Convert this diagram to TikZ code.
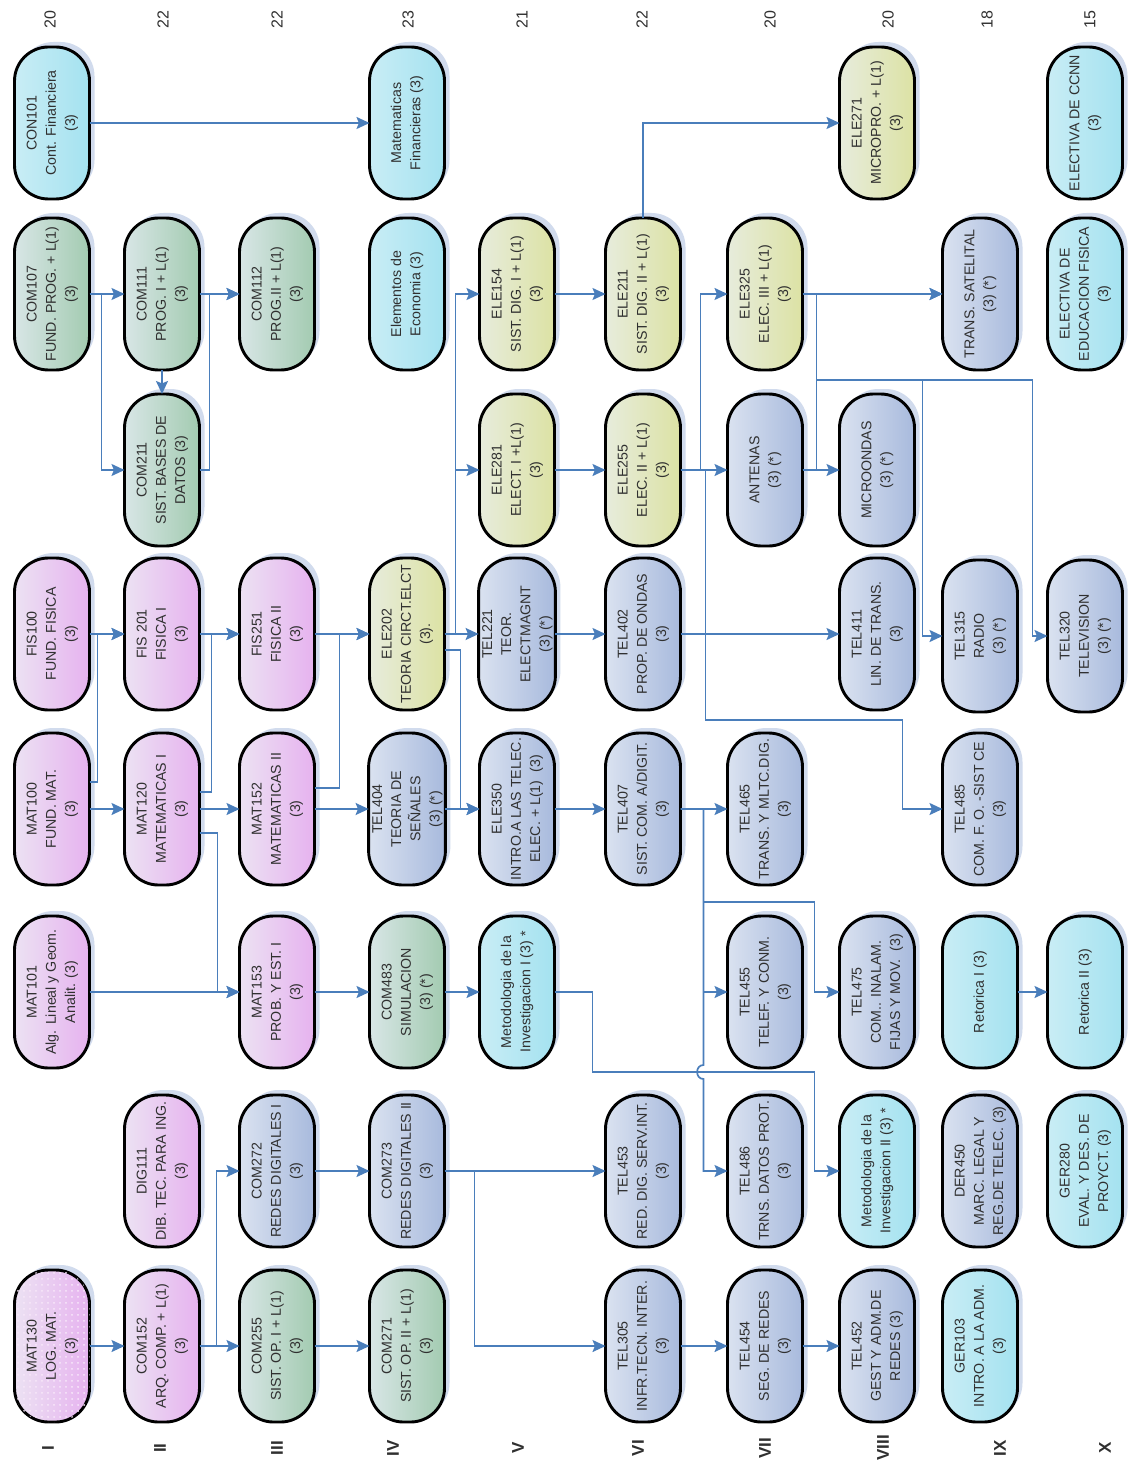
\documentclass[tikz,border=0pt]{standalone}
\usepackage{fontspec}
\setmainfont{Liberation Sans}
\usepackage{graphicx}
\usetikzlibrary{arrows.meta,shadows,patterns}
\definecolor{pinkR}{HTML}{E6B2EF}
\definecolor{pinkL}{HTML}{ECE2F3}
\definecolor{greenR}{HTML}{A3CBB1}
\definecolor{greenL}{HTML}{D8E6E6}
\definecolor{cyanR}{HTML}{A4E2F0}
\definecolor{cyanL}{HTML}{C9EDF5}
\definecolor{yelR}{HTML}{DCE2A4}
\definecolor{yelL}{HTML}{E7ECDC}
\definecolor{bluR}{HTML}{A8BADD}
\definecolor{bluL}{HTML}{DAE2F0}
\definecolor{arrc}{HTML}{4A7EBB}
\definecolor{shad}{HTML}{C9D5EA}
\definecolor{txt}{HTML}{303030}
\newcommand{\crstext}[1]{\rotatebox{90}{\begin{tabular}{@{}c@{}}#1\end{tabular}}}
\tikzset{
  course/.style={draw=black, line width=1.45pt, rounded corners=17pt,
    minimum width=37.5pt, minimum height=76pt, inner sep=0pt, outer sep=0pt,
    text=txt, font=\fontsize{7.1}{9.6}\selectfont,
    drop shadow={shadow xshift=2.5pt, shadow yshift=2.5pt, fill=shad, opacity=0.85}},
  pinkc/.style={course, left color=pinkL, right color=pinkR},
  greenc/.style={course, left color=greenL, right color=greenR},
  cyanc/.style={course, left color=cyanL, right color=cyanR},
  yelc/.style={course, left color=yelL, right color=yelR},
  bluc/.style={course, left color=bluL, right color=bluR},
  arr/.style={draw=arrc, line width=0.85pt, -{Stealth[length=6.5pt,width=6pt,inset=1.2pt]}},
  credit/.style={rotate=90, font=\fontsize{8}{9}\selectfont, text=txt},
  semlab/.style={rotate=90, font=\bfseries\fontsize{8.5}{9}\selectfont, text=txt},
}
\begin{document}
\begin{tikzpicture}[x=0.5pt,y=-0.5pt]
\useasboundingbox (0,0) rectangle (1130,1465);
\fill[white] (0,0) rectangle (1130,1465);

% ---- credits (top) ----
\node[credit] (cr1) at (50,20) {20};
\node[credit] (cr2) at (163,20) {22};
\node[credit] (cr3) at (277,20) {22};
\node[credit] (cr4) at (408,20) {23};
\node[credit] (cr5) at (522,20) {21};
\node[credit] (cr6) at (642,20) {22};
\node[credit] (cr7) at (770,20) {20};
\node[credit] (cr8) at (888,20) {20};
\node[credit] (cr9) at (987,20) {18};
\node[credit] (cr10) at (1090,20) {15};

% ---- semester labels (bottom) ----
\node[semlab] (s1) at (48,1448) {I};
\node[semlab] (s2) at (160,1448) {II};
\node[semlab] (s3) at (277,1448) {III};
\node[semlab] (s4) at (393,1448) {IV};
\node[semlab] (s5) at (518,1448) {V};
\node[semlab] (s6) at (638,1448) {VI};
\node[semlab] (s7) at (765,1448) {VII};
\node[semlab] (s8) at (883,1448) {VIII};
\node[semlab] (s9) at (1000,1448) {IX};
\node[semlab] (s10) at (1105,1448) {X};

% ---- column I ----
\node[cyanc] (con101) at (52,123) {\crstext{CON101\\Cont. Financiera\\(3)}};
\node[greenc] (com107) at (52,294) {\crstext{COM107\\FUND. PROG. + L(1)\\(3)}};
\node[pinkc] (fis100) at (52,634) {\crstext{FIS100\\FUND. FISICA\\(3)}};
\node[pinkc] (mat100) at (52,809) {\crstext{MAT100\\FUND. MAT.\\(3)}};
\node[pinkc] (mat101) at (52,992) {\crstext{MAT101\\Alg. Lineal y Geom.\\Analit. (3)}};
\node[pinkc, postaction={pattern=dots, pattern color=white!70!pinkR}] (mat130) at (52,1346) {\crstext{MAT130\\LOG. MAT.\\(3)}};

% ---- column II ----
\node[greenc] (com111) at (162,294) {\crstext{COM111\\PROG. I + L(1)\\(3)}};
\node[greenc] (com211) at (162,470) {\crstext{COM211\\SIST. BASES DE\\DATOS (3)}};
\node[pinkc] (fis201) at (162,634) {\crstext{FIS 201\\FISICA I\\(3)}};
\node[pinkc] (mat120) at (162,809) {\crstext{MAT120\\MATEMATICAS I\\(3)}};
\node[pinkc] (dig111) at (162,1171) {\crstext{DIG111\\DIB. TEC. PARA ING.\\(3)}};
\node[pinkc] (com152) at (162,1346) {\crstext{COM152\\ARQ. COMP. + L(1)\\(3)}};

% ---- column III ----
\node[greenc] (com112) at (277,294) {\crstext{COM112\\PROG.II + L(1)\\(3)}};
\node[pinkc] (fis251) at (277,634) {\crstext{FIS251\\FISICA II\\(3)}};
\node[pinkc] (mat152) at (277,809) {\crstext{MAT152\\MATEMATICAS II\\(3)}};
\node[pinkc] (mat153) at (277,992) {\crstext{MAT153\\PROB. Y EST. I\\(3)}};
\node[bluc] (com272) at (277,1171) {\crstext{COM272\\REDES DIGITALES I\\(3)}};
\node[greenc] (com255) at (277,1346) {\crstext{COM255\\SIST. OP. I + L(1)\\(3)}};

% ---- column IV ----
\node[cyanc] (matfin) at (407,123) {\crstext{Matematicas\\Financieras (3)}};
\node[cyanc] (eleco) at (407,294) {\crstext{Elementos de\\Economia (3)}};
\node[yelc] (ele202) at (407,634) {\crstext{ELE202\\TEORIA CIRCT.ELCT\\(3).}};
\node[bluc] (tel404) at (407,809) {\crstext{TEL404\\TEORIA DE\\SEÑALES\\(3) (*)}};
\node[greenc] (com483) at (407,992) {\crstext{COM483\\SIMULACION\\(3) (*)}};
\node[bluc] (com273) at (407,1171) {\crstext{COM273\\REDES DIGITALES II\\(3)}};
\node[greenc] (com271) at (407,1346) {\crstext{COM271\\SIST. OP. II + L(1)\\(3)}};

% ---- column V ----
\node[yelc] (ele154) at (517,294) {\crstext{ELE154\\SIST. DIG. I + L(1)\\(3)}};
\node[yelc] (ele281) at (517,470) {\crstext{ELE281\\ELECT. I +L(1)\\(3)}};
\node[bluc] (tel221) at (517,634) {\crstext{TEL221\\TEOR.\\ELECTMAGNT\\(3) (*)}};
\node[bluc] (ele350) at (517,809) {\crstext{ELE350\\INTRO.A LAS TELEC.\\ELEC. + L(1)~~(3)}};
\node[cyanc] (met1) at (517,992) {\crstext{Metodologia de la\\Investigacion I (3) *}};

% ---- column VI ----
\node[yelc] (ele211) at (643,294) {\crstext{ELE211\\SIST. DIG. II + L(1)\\(3)}};
\node[yelc] (ele255) at (643,470) {\crstext{ELE255\\ELEC. II + L(1)\\(3)}};
\node[bluc] (tel402) at (643,634) {\crstext{TEL402\\PROP. DE ONDAS\\(3)}};
\node[bluc] (tel407) at (643,809) {\crstext{TEL407\\SIST. COM. A/DIGIT.\\(3)}};
\node[bluc] (tel453) at (643,1171) {\crstext{TEL453\\RED. DIG. SERV.INT.\\(3)}};
\node[bluc] (tel305) at (643,1346) {\crstext{TEL305\\INFR.TECN. INTER.\\(3)}};

% ---- column VII ----
\node[yelc] (ele325) at (765,294) {\crstext{ELE325\\ELEC. III + L(1)\\(3)}};
\node[bluc] (antenas) at (765,470) {\crstext{ANTENAS\\(3) (*)}};
\node[bluc] (tel465) at (765,809) {\crstext{TEL465\\TRANS. Y MLTC.DIG.\\(3)}};
\node[bluc] (tel455) at (765,992) {\crstext{TEL455\\TELEF. Y CONM.\\(3)}};
\node[bluc] (tel486) at (765,1171) {\crstext{TEL486\\TRNS. DATOS PROT.\\(3)}};
\node[bluc] (tel454) at (765,1346) {\crstext{TEL454\\SEG. DE REDES\\(3)}};

% ---- column VIII ----
\node[yelc] (ele271) at (877,123) {\crstext{ELE271\\MICROPRO. + L(1)\\(3)}};
\node[bluc] (micro) at (877,470) {\crstext{MICROONDAS\\(3) (*)}};
\node[bluc] (tel411) at (877,634) {\crstext{TEL411\\LIN. DE TRANS.\\(3)}};
\node[bluc] (tel475) at (877,992) {\crstext{TEL475\\COM.. INALAM.\\FIJAS Y MOV.~~(3)}};
\node[cyanc] (met2) at (877,1171) {\crstext{Metodologia de la\\Investigacion II (3) *}};
\node[bluc] (tel452) at (877,1346) {\crstext{TEL452\\GEST Y ADM.DE\\REDES (3)}};

% ---- column IX ----
\node[bluc] (satel) at (980,294) {\crstext{TRANS. SATELITAL\\(3) (*)}};
\node[bluc] (tel315) at (980,636) {\crstext{TEL315\\RADIO\\(3) (*)}};
\node[bluc] (tel485) at (980,809) {\crstext{TEL485\\COM. F. O. -SIST CE\\(3)}};
\node[cyanc] (ret1) at (980,992) {\crstext{Retorica I (3)}};
\node[bluc] (der450) at (980,1171) {\crstext{DER450\\MARC. LEGAL Y\\REG.DE TELEC. (3)}};
\node[cyanc] (ger103) at (980,1346) {\crstext{GER103\\INTRO. A LA ADM.\\(3)}};

% ---- column X ----
\node[cyanc] (elccnn) at (1085,123) {\crstext{ELECTIVA DE CCNN\\(3)}};
\node[cyanc] (elefis) at (1085,294) {\crstext{ELECTIVA DE\\EDUCACION FISICA\\(3)}};
\node[bluc] (tel320) at (1085,636) {\crstext{TEL320\\TELEVISION\\(3) (*)}};
\node[cyanc] (ret2) at (1085,992) {\crstext{Retorica II (3)}};
\node[cyanc] (ger280) at (1085,1171) {\crstext{GER280\\EVAL. Y DES. DE\\PROYCT. (3)}};

% ---- connectors ----
\draw[arr] (con101.east) -- (matfin.west);
\draw[arr] (com107.east) -- (com111.west);
\draw[arr] (com107.east) -- ++(12,0) |- (com211.west);
\draw[arr] (com111.south) -- (com211.north);
\draw[arr] (com111.east) -- (com112.west);
\draw[arr] (com211.east) -- ++(10,0) |- (com112.west);
\draw[arr] (fis100.east) -- (fis201.west);
\draw[arr] ([yshift=13.5pt]mat100.east) -- ++(8,0) |- (fis201.west);
\draw[arr] (fis201.east) -- (fis251.west);
\draw[arr] ([yshift=8.5pt]mat120.east) -- ++(12,0) |- (fis251.west);
\draw[arr] (fis251.east) -- (ele202.west);
\draw[arr] ([yshift=10.5pt]mat152.east) -- ++(25,0) |- (ele202.west);
\draw[arr] (mat100.east) -- (mat120.west);
\draw[arr] (mat120.east) -- (mat152.west);
\draw[arr] ([yshift=-12pt]mat120.east) -- ++(18,0) |- (mat153.west);
\draw[arr] (mat101.east) -- (mat153.west);
\draw[arr] (mat152.east) -- (tel404.west);
\draw[arr] (mat153.east) -- (com483.west);
\draw[arr] (com483.east) -- (met1.west);
\draw[arr] (tel404.east) -- (ele350.west);
\draw[arr] ([yshift=-8pt]ele202.east) -- ++(16,0) |- (ele350.west);
\draw[arr] (ele202.east) -- (tel221.west);
\draw[arr] (ele202.east) -- ++(11,0) |- (ele154.west);
\draw[arr] (ele202.east) -- ++(11,0) |- (ele281.west);
\draw[arr] (ele154.east) -- (ele211.west);
\draw[arr] (ele211.north) |- (ele271.west);
\draw[arr] (ele281.east) -- (ele255.west);
\draw[arr] (ele255.east) -- (antenas.west);
\draw[arr] (ele255.east) -- ++(20,0) |- (ele325.west);
\draw[arr] (ele255.east) -- ++(25,0) -- ++(0,250) -| ([xshift=-20pt]tel485.west) -- (tel485.west);
\draw[arr] (tel221.east) -- (tel402.west);
\draw[arr] (tel402.east) -- (tel411.west);
\draw[arr] (antenas.east) -- (micro.west);
\draw[arr] (ele325.east) -- (satel.west);
\draw[arr] (antenas.east) -- ++(14,0) |- (satel.west);
\draw[arr] (antenas.east) -- ++(14,0) -- ++(0,-90) -| ([xshift=-10pt]tel315.west) -- (tel315.west);
\draw[arr] (antenas.east) -- ++(14,0) -- ++(0,-90) -| ([xshift=-7.5pt]tel320.west) -- (tel320.west);
\draw[arr] (ele350.east) -- (tel407.west);
\draw[arr] (tel407.east) -- (tel465.west);
\draw[arr] (tel407.east) -- ++(23,0) |- (tel455.west);
\draw[arr] (tel407.east) -- ++(23,0) -- ++(0,93) -| ([xshift=-12.5pt]tel475.west) -- (tel475.west);
\draw[arr] (tel407.east) -- ++(23,0) -- (703.5,1065) .. controls (695,1065) and (695,1079) .. (703.5,1079) |- (tel486.west);
\draw[arr] (met1.east) -- ++(38,0) -- ++(0,80) -| ([xshift=-12.5pt]met2.west) -- (met2.west);
\draw[arr] (mat130.east) -- (com152.west);
\draw[arr] (com152.east) -- (com255.west);
\draw[arr] (com152.east) -- ++(17,0) |- (com272.west);
\draw[arr] (com255.east) -- (com271.west);
\draw[arr] (com272.east) -- (com273.west);
\draw[arr] (com273.east) -- (tel453.west);
\draw[arr] (com273.east) -- ++(30,0) |- (tel305.west);
\draw[arr] (tel305.east) -- (tel454.west);
\draw[arr] (tel454.east) -- (tel452.west);
\draw[arr] (ret1.east) -- (ret2.west);
\end{tikzpicture}
\end{document}
